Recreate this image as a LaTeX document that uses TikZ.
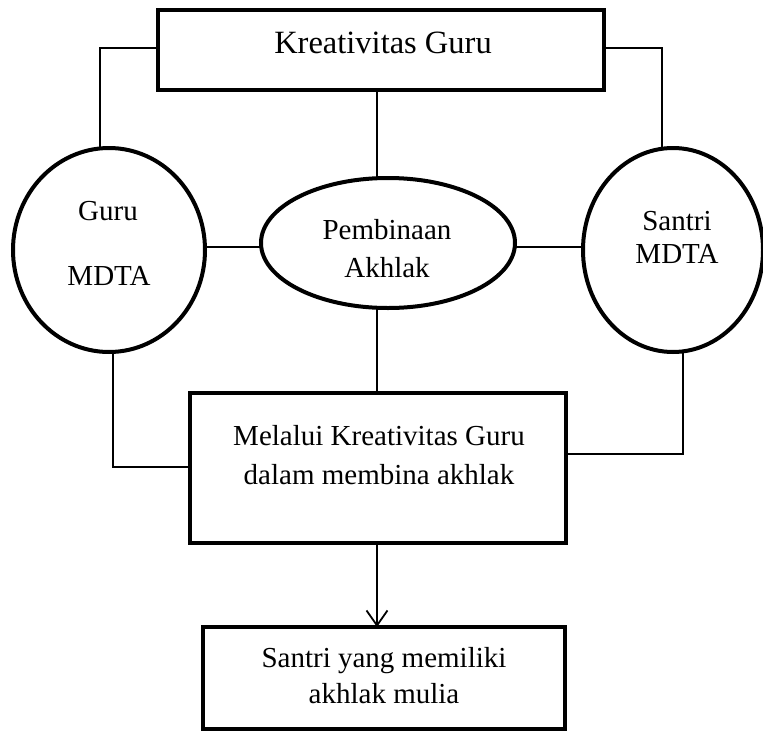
\documentclass[tikz,border=0pt]{standalone}
\usepackage{fontspec}
\setmainfont{Liberation Serif}
\usetikzlibrary{shapes.geometric,arrows.meta}
\begin{document}
\begin{tikzpicture}[x=1pt,y=-1pt,
  boxshape/.style={draw,line width=4pt,rectangle,inner sep=0pt,outer sep=0pt},
  ovalshape/.style={draw,line width=4pt,ellipse,inner sep=0pt,outer sep=0pt},
  lbl/.style={font=\fontsize{29pt}{38pt}\selectfont,inner sep=0pt,anchor=base},
  conn/.style={line width=1.3pt},
  arr/.style={line width=1.8pt,-{Straight Barb[length=15pt,width=21pt,line width=1.8pt]}}]
\useasboundingbox (0,0) rectangle (763,731);
% shapes
\node[boxshape,minimum width=446pt,minimum height=80pt] (topbox) at (381,50) {};
\node[ovalshape,minimum width=192pt,minimum height=204pt] (L) at (109,250) {};
\node[ovalshape,minimum width=254pt,minimum height=130pt] (C) at (388,243) {};
\node[ovalshape,minimum width=180pt,minimum height=204pt] (R) at (673,250) {};
\node[boxshape,minimum width=376pt,minimum height=150pt] (mid) at (378,468) {};
\node[boxshape,minimum width=362pt,minimum height=102pt] (bot) at (384,678) {};
% labels
\node[lbl,font=\fontsize{32.5pt}{40pt}\selectfont] (t1) at (383,53) {Kreativitas Guru};
\node[lbl] (l1) at (108,220) {Guru};
\node[lbl] (l2) at (109,285) {MDTA};
\node[lbl] (c1) at (387,239) {Pembinaan};
\node[lbl] (c2) at (387,277) {Akhlak};
\node[lbl] (r1) at (677,230) {Santri};
\node[lbl] (r2) at (677,263) {MDTA};
\node[lbl] (m1) at (379,445) {Melalui Kreativitas Guru};
\node[lbl] (m2) at (379,484) {dalam membina akhlak};
\node[lbl] (b1) at (384,667) {Santri yang memiliki};
\node[lbl] (b2) at (384,703) {akhlak mulia};
% connectors
\draw[conn] ([yshift=2pt]topbox.west) -| ([xshift=-9pt]L.north);
\draw[conn] ([yshift=2pt]topbox.east) -| ([xshift=-11pt]R.north);
\draw[conn] ([xshift=-4pt]topbox.south) -- ([xshift=-4pt]topbox.south |- C.north);
\draw[conn] ([yshift=3pt]L.east) -- ([yshift=3pt]L.east -| C.west);
\draw[conn] ([yshift=3pt]R.west) -- ([yshift=3pt]R.west -| C.east);
\draw[conn] ([xshift=-11pt]C.south) -- ([xshift=-11pt]C.south |- mid.north);
\draw[conn] ([xshift=4pt]L.south) |- ([yshift=1pt]mid.west);
\draw[conn] ([xshift=10pt]R.south) |- ([yshift=14pt]mid.east);
\draw[arr] ([xshift=-1pt]mid.south) -- ([xshift=-1pt]mid.south |- bot.north);
\end{tikzpicture}
\end{document}
